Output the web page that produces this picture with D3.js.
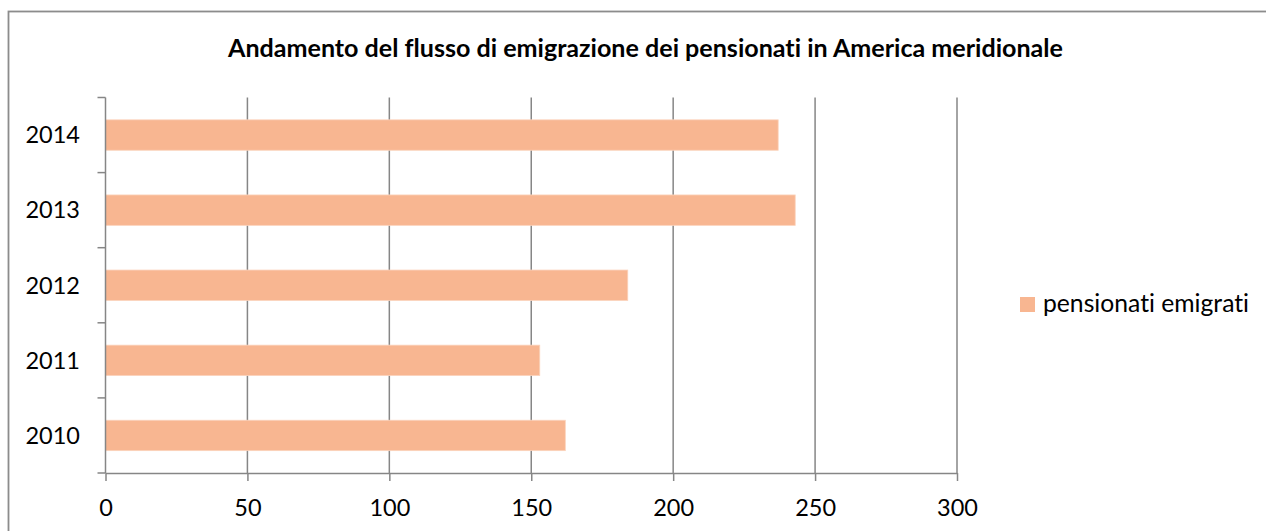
<!DOCTYPE html>
<html>
<head>
<meta charset="utf-8">
<script src="https://cdn.jsdelivr.net/npm/d3@7"></script>
<style>
  html, body { margin: 0; padding: 0; background: #ffffff; }
  svg { display: block; }
  text { font-family: Lato, "Open Sans", sans-serif; fill: #000; font-variant-ligatures: none; font-feature-settings: "liga" 0; }
</style>
</head>
<body>
<svg id="chart" width="1266" height="531"></svg>
<script>
// Chart data
const titleText = "Andamento del flusso di emigrazione dei pensionati in America meridionale";
const seriesName = "pensionati emigrati";
const years = ["2010", "2011", "2012", "2013", "2014"];
const pensionati = [162, 153, 184, 243, 237];
const xTicks = [0, 50, 100, 150, 200, 250, 300];

const W = 1266, H = 531;
const plot = { left: 105.5, right: 957, top: 97.5, bottom: 473 };
const gridColor = "#868686";
const barColor = "#f8b691";

const svg = d3.select("#chart");

// outer frame of the chart area
svg.append("rect")
  .attr("x", 8.5).attr("y", 11.5)
  .attr("width", W + 20).attr("height", H + 20)
  .attr("fill", "#fff")
  .attr("stroke", "#8c8c8c").attr("stroke-width", 1.8);

const x = d3.scaleLinear().domain([0, 300]).range([plot.left, plot.right]);
const y = d3.scaleBand()
  .domain(years.slice().reverse())
  .range([plot.top, plot.bottom])
  .paddingInner(0.595)
  .paddingOuter(0.2975);

// vertical gridlines
svg.append("g")
  .selectAll("line")
  .data(xTicks.filter(t => t > 0))
  .join("line")
  .attr("x1", d => x(d)).attr("x2", d => x(d))
  .attr("y1", plot.top).attr("y2", plot.bottom)
  .attr("stroke", gridColor).attr("stroke-width", 1.5);

// bars
svg.append("g")
  .selectAll("rect")
  .data(years.map((yr, i) => ({ yr, v: pensionati[i] })))
  .join("rect")
  .attr("x", x(0))
  .attr("y", d => y(d.yr))
  .attr("width", d => x(d.v) - x(0))
  .attr("height", y.bandwidth())
  .attr("fill", barColor)
  .attr("stroke", "#fbd3bc").attr("stroke-width", 0.8);

// x axis
const xAxis = svg.append("g")
  .attr("transform", `translate(0,${plot.bottom})`)
  .call(d3.axisBottom(x).tickValues(xTicks).tickSize(8).tickPadding(18).tickSizeOuter(0));
xAxis.select(".domain").attr("stroke", gridColor).attr("stroke-width", 1.5);
xAxis.selectAll(".tick line").attr("stroke", gridColor).attr("stroke-width", 1.5);
xAxis.selectAll(".tick text")
  .style("font-family", "Lato, sans-serif").style("font-size", "23.5px").attr("fill", "#000");

// y axis: ticks sit between categories
const boundaries = d3.range(years.length + 1).map(i => plot.top + i * y.step());
const yAxis = svg.append("g");
yAxis.append("line")
  .attr("x1", plot.left).attr("x2", plot.left)
  .attr("y1", plot.top).attr("y2", plot.bottom)
  .attr("stroke", gridColor).attr("stroke-width", 1.5);
yAxis.selectAll("line.tk")
  .data(boundaries)
  .join("line").attr("class", "tk")
  .attr("x1", plot.left - 8).attr("x2", plot.left)
  .attr("y1", d => d).attr("y2", d => d)
  .attr("stroke", gridColor).attr("stroke-width", 1.5);
yAxis.selectAll("text")
  .data(years)
  .join("text")
  .attr("x", 80)
  .attr("y", d => y(d) + y.bandwidth() / 2 + 8.3)
  .attr("text-anchor", "end")
  .style("font-size", "23.5px")
  .text(d => d);

// title
const title = svg.append("text")
  .attr("x", 645.5).attr("y", 57)
  .attr("text-anchor", "middle")
  .style("font-size", "23px").style("font-weight", "bold")
  .text(titleText);
const tw = title.node().getComputedTextLength();
title.style("font-size", (23 * 835 / tw).toFixed(2) + "px");

// legend
const legend = svg.append("g");
legend.append("rect")
  .attr("x", 1020).attr("y", 297)
  .attr("width", 15).attr("height", 15)
  .attr("fill", barColor);
const legText = legend.append("text")
  .attr("x", 1043).attr("y", 311.5)
  .style("font-size", "23px")
  .text(seriesName);
const lw = legText.node().getComputedTextLength();
legText.style("font-size", Math.min(25, 23 * 206 / lw).toFixed(2) + "px");
</script>
</body>
</html>
